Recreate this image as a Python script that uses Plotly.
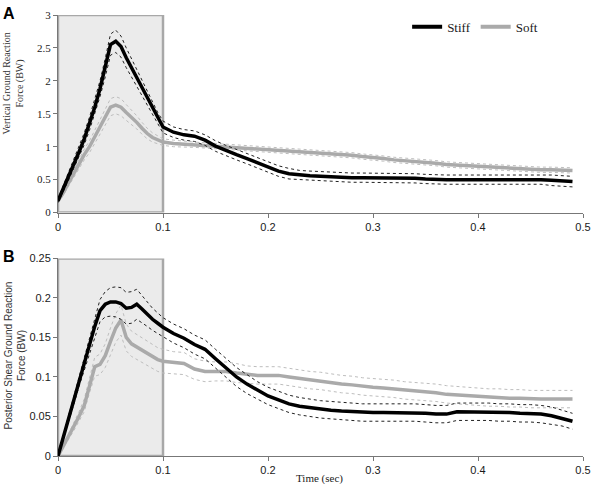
import plotly.graph_objects as go
from plotly.subplots import make_subplots

# shared time grid (sec)
time_s = [0, 0.005, 0.01, 0.015, 0.02, 0.025, 0.03, 0.035, 0.04, 0.045, 0.05,
          0.055, 0.06, 0.065, 0.07, 0.075, 0.08, 0.085, 0.09, 0.095, 0.1,
          0.11, 0.12, 0.13, 0.14, 0.15, 0.16, 0.17, 0.18, 0.19, 0.2,
          0.21, 0.22, 0.23, 0.24, 0.25, 0.26, 0.27, 0.28, 0.29, 0.3,
          0.31, 0.32, 0.33, 0.34, 0.35, 0.36, 0.37, 0.38, 0.39, 0.4,
          0.41, 0.42, 0.43, 0.44, 0.45, 0.46, 0.47, 0.48, 0.49]

# Panel A - vertical GRF (BW)
stiff_vert = [0.18, 0.36, 0.55, 0.74, 0.92, 1.12, 1.35, 1.6, 1.88, 2.2, 2.55,
              2.6, 2.52, 2.35, 2.2, 2.05, 1.9, 1.74, 1.58, 1.43, 1.3,
              1.22, 1.18, 1.16, 1.1, 1.01, 0.94, 0.88, 0.82, 0.76, 0.69,
              0.63, 0.59, 0.57, 0.56, 0.55, 0.54, 0.54, 0.53, 0.53, 0.53,
              0.52, 0.52, 0.52, 0.52, 0.51, 0.5, 0.5, 0.5, 0.5, 0.51,
              0.51, 0.51, 0.51, 0.51, 0.51, 0.5, 0.49, 0.48, 0.47]
stiff_vert_sd = [0.03, 0.05, 0.06, 0.07, 0.08, 0.09, 0.1, 0.11, 0.12, 0.14, 0.16,
                 0.17, 0.16, 0.15, 0.14, 0.13, 0.12, 0.11, 0.1, 0.09, 0.09,
                 0.08, 0.08, 0.08, 0.08, 0.08, 0.08, 0.08, 0.08, 0.08, 0.08,
                 0.08, 0.08, 0.07, 0.07, 0.07, 0.07, 0.07, 0.07, 0.07, 0.07,
                 0.07, 0.07, 0.07, 0.07, 0.07, 0.07, 0.07, 0.07, 0.07, 0.07,
                 0.07, 0.07, 0.07, 0.07, 0.07, 0.07, 0.08, 0.08, 0.08]
soft_vert = [0.18, 0.3, 0.45, 0.6, 0.75, 0.88, 1.0, 1.15, 1.3, 1.45, 1.6,
             1.63, 1.6, 1.52, 1.45, 1.37, 1.28, 1.2, 1.14, 1.1, 1.07,
             1.05, 1.04, 1.03, 1.02, 1.01, 0.99, 0.98, 0.97, 0.96, 0.95,
             0.94, 0.93, 0.92, 0.91, 0.9, 0.89, 0.88, 0.87, 0.85, 0.84,
             0.82, 0.8, 0.79, 0.77, 0.76, 0.75, 0.73, 0.72, 0.71, 0.7,
             0.69, 0.68, 0.67, 0.66, 0.66, 0.65, 0.65, 0.64, 0.64]
soft_vert_sd = [0.03, 0.04, 0.05, 0.06, 0.07, 0.08, 0.09, 0.1, 0.11, 0.12, 0.13,
                0.13, 0.13, 0.12, 0.11, 0.1, 0.09, 0.08, 0.07, 0.06, 0.05,
                0.05, 0.04, 0.04, 0.04, 0.04, 0.04, 0.04, 0.04, 0.04, 0.04,
                0.04, 0.04, 0.04, 0.04, 0.04, 0.04, 0.04, 0.04, 0.04, 0.04,
                0.04, 0.04, 0.04, 0.04, 0.04, 0.04, 0.04, 0.04, 0.04, 0.04,
                0.04, 0.04, 0.04, 0.04, 0.04, 0.04, 0.04, 0.04, 0.04]

# Panel B - posterior shear GRF (BW)
stiff_shear = [0, 0.024, 0.047, 0.07, 0.094, 0.117, 0.141, 0.164, 0.184, 0.192, 0.195,
               0.195, 0.193, 0.187, 0.188, 0.192, 0.186, 0.179, 0.173, 0.168, 0.163,
               0.155, 0.149, 0.141, 0.135, 0.123, 0.111, 0.1, 0.091, 0.083, 0.076,
               0.071, 0.066, 0.063, 0.061, 0.059, 0.058, 0.057, 0.056, 0.055, 0.055,
               0.055, 0.055, 0.055, 0.055, 0.054, 0.053, 0.053, 0.056, 0.056, 0.056,
               0.056, 0.055, 0.055, 0.054, 0.054, 0.053, 0.051, 0.048, 0.044]
stiff_shear_sd = [0, 0.003, 0.004, 0.005, 0.006, 0.008, 0.01, 0.012, 0.014, 0.016, 0.018,
                  0.019, 0.02, 0.02, 0.02, 0.019, 0.017, 0.015, 0.014, 0.013, 0.012,
                  0.012, 0.012, 0.012, 0.012, 0.012, 0.012, 0.012, 0.012, 0.011, 0.011,
                  0.011, 0.011, 0.011, 0.011, 0.011, 0.011, 0.011, 0.011, 0.011, 0.011,
                  0.011, 0.011, 0.011, 0.011, 0.011, 0.011, 0.011, 0.011, 0.011, 0.011,
                  0.011, 0.011, 0.011, 0.011, 0.011, 0.011, 0.011, 0.01, 0.01]
soft_shear = [0, 0.012, 0.024, 0.036, 0.05, 0.064, 0.09, 0.113, 0.116, 0.127, 0.145,
              0.162, 0.172, 0.15, 0.142, 0.138, 0.134, 0.13, 0.126, 0.122, 0.12,
              0.118, 0.117, 0.11, 0.107, 0.107, 0.107, 0.105, 0.103, 0.102, 0.102,
              0.102, 0.1, 0.098, 0.096, 0.095, 0.093, 0.091, 0.09, 0.088, 0.087,
              0.086, 0.085, 0.083, 0.082, 0.081, 0.08, 0.078, 0.077, 0.076, 0.075,
              0.074, 0.074, 0.073, 0.073, 0.072, 0.072, 0.072, 0.072, 0.072]
soft_shear_sd = [0, 0.002, 0.003, 0.004, 0.006, 0.008, 0.01, 0.012, 0.013, 0.015, 0.017,
                 0.018, 0.019, 0.017, 0.016, 0.016, 0.015, 0.015, 0.015, 0.015, 0.015,
                 0.014, 0.014, 0.013, 0.013, 0.012, 0.012, 0.012, 0.011, 0.011, 0.011,
                 0.011, 0.011, 0.011, 0.011, 0.011, 0.011, 0.011, 0.011, 0.011, 0.011,
                 0.011, 0.011, 0.011, 0.011, 0.011, 0.011, 0.011, 0.011, 0.011, 0.011,
                 0.011, 0.011, 0.011, 0.011, 0.011, 0.011, 0.011, 0.011, 0.011]

x_ticks = [0, 0.1, 0.2, 0.3, 0.4, 0.5]
x_tick_text = ["0", "0.1", "0.2", "0.3", "0.4", "0.5"]
a_ticks = [0, 0.5, 1, 1.5, 2, 2.5, 3]
a_tick_text = ["0", "0.5", "1", "1.5", "2", "2.5", "3"]
b_ticks = [0, 0.05, 0.1, 0.15, 0.2, 0.25]
b_tick_text = ["0", "0.05", "0.1", "0.15", "0.2", "0.25"]

STIFF = "#000000"
SOFT = "#aaaaaa"
SERIF = "Liberation Serif"
SANS = "Liberation Sans"
TEXT = "#1a1a1a"

fig = make_subplots(rows=2, cols=1, vertical_spacing=0.104)


def add_group(mean, sd, color, band_color, name, row):
    upper = [m + s for m, s in zip(mean, sd)]
    lower = [m - s for m, s in zip(mean, sd)]
    for band in (upper, lower):
        fig.add_trace(go.Scatter(x=time_s, y=band, mode="lines", showlegend=False,
                                 line=dict(color=band_color, width=1, dash="dot"),
                                 hoverinfo="skip"), row=row, col=1)
    fig.add_trace(go.Scatter(x=time_s, y=mean, mode="lines", name=name,
                             showlegend=False,
                             line=dict(color=color, width=3.5)), row=row, col=1)


add_group(soft_vert, soft_vert_sd, SOFT, "#bdbdbd", "Soft", 1)
add_group(stiff_vert, stiff_vert_sd, STIFF, "#222222", "Stiff", 1)
add_group(soft_shear, soft_shear_sd, SOFT, "#bdbdbd", "Soft", 2)
add_group(stiff_shear, stiff_shear_sd, STIFF, "#222222", "Stiff", 2)

# legend entries (order Stiff, Soft)
fig.add_trace(go.Scatter(x=[None], y=[None], mode="lines", name="Stiff",
                         line=dict(color=STIFF, width=4)), row=1, col=1)
fig.add_trace(go.Scatter(x=[None], y=[None], mode="lines", name="Soft",
                         line=dict(color=SOFT, width=4)), row=1, col=1)

# shaded impact window
fig.add_shape(type="rect", x0=0, x1=0.1, y0=0, y1=3, xref="x", yref="y",
              fillcolor="#ebebeb", line=dict(color="#a8a8a8", width=2.5), layer="below")
fig.add_shape(type="rect", x0=0, x1=0.1, y0=0, y1=0.25, xref="x2", yref="y2",
              fillcolor="#ebebeb", line=dict(color="#a8a8a8", width=2.5), layer="below")

axis_common = dict(showgrid=False, zeroline=False, showline=True, linecolor="#777777",
                   linewidth=1, ticks="outside", ticklen=4, tickcolor="#777777",
                   automargin=False)
for r in (1, 2):
    fig.update_xaxes(range=[0, 0.5], tickvals=x_ticks, ticktext=x_tick_text,
                     tickfont=dict(family=SANS, size=11, color=TEXT),
                     row=r, col=1, **axis_common)
fig.update_yaxes(range=[0, 3], tickvals=a_ticks, ticktext=a_tick_text,
                 tickfont=dict(family=SERIF, size=11, color=TEXT),
                 row=1, col=1, **axis_common)
fig.update_yaxes(range=[0, 0.25], tickvals=b_ticks, ticktext=b_tick_text,
                 tickfont=dict(family=SANS, size=11, color=TEXT),
                 row=2, col=1, **axis_common)

fig.update_layout(
    width=600, height=484,
    margin=dict(l=58, r=17, t=15, b=28),
    paper_bgcolor="white", plot_bgcolor="white",
    legend=dict(orientation="h", x=0.665, y=0.973, yanchor="middle",
                bgcolor="rgba(0,0,0,0)", font=dict(family=SERIF, size=13, color=TEXT),
                itemwidth=30),
    annotations=[
        dict(text="<b>A</b>", x=0, y=1, xref="paper", yref="paper",
             xanchor="center", yanchor="middle",
             xshift=-49, yshift=2, showarrow=False, font=dict(family=SANS, size=16, color="black")),
        dict(text="<b>B</b>", x=0, y=0.449, xref="paper", yref="paper",
             xanchor="center", yanchor="middle",
             xshift=-49, yshift=1, showarrow=False, font=dict(family=SANS, size=16, color="black")),
        dict(text="Vertical Ground Reaction<br>Force (BW)", x=0, y=0.8435,
             xref="paper", yref="paper", xanchor="center", yanchor="middle",
             xshift=-44.5, textangle=-90, showarrow=False,
             font=dict(family=SERIF, size=10, color="#333333")),
        dict(text="Posterior Shear Ground Reaction<br>Force (BW)", x=0, y=0.2268,
             xref="paper", yref="paper", xanchor="center", yanchor="middle",
             xshift=-43.5, textangle=-90, showarrow=False,
             font=dict(family=SANS, size=10, color="#333333")),
        dict(text="Time (sec)", x=0.499, y=0, xref="paper", yref="paper",
             xanchor="center", yanchor="middle",
             yshift=-22, showarrow=False, font=dict(family=SERIF, size=11, color=TEXT)),
    ],
)

# drop the default 8px page margin so the figure fills the window
fig.write_html("out.html", config={"displayModeBar": False},
               post_script="document.body.style.margin='0';")
